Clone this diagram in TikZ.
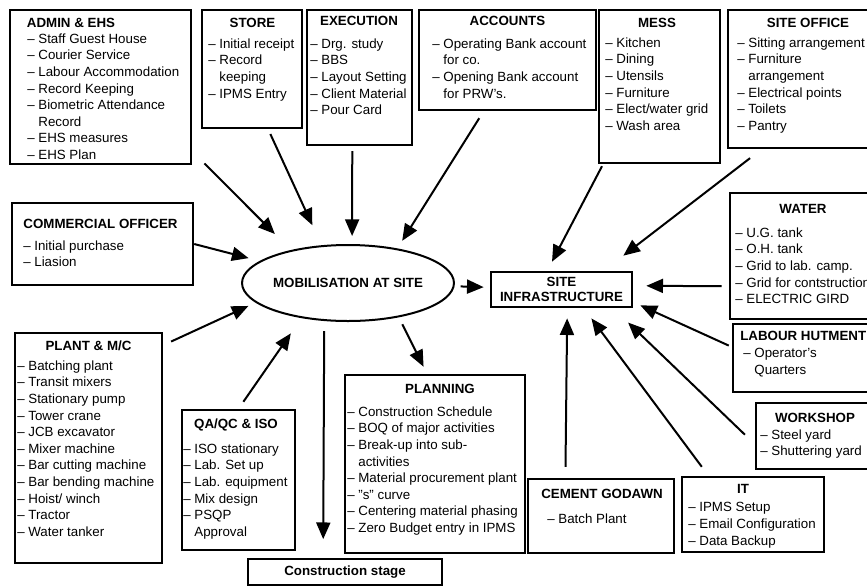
\documentclass[tikz,border=0pt]{standalone}
\usepackage{fontspec}
\setmainfont{Liberation Sans}
\usetikzlibrary{arrows.meta,shapes.geometric,fit}
\newcommand{\dashind}{\hphantom{-- }}
\begin{document}
\begin{tikzpicture}[x=0.75pt,y=-0.75pt,
    box/.style={draw,line width=1.8pt,inner sep=0pt},
    ttl/.style={font=\bfseries,anchor=base,inner sep=0pt},
    lst/.style={font=\fontsize{10}{12.45}\selectfont,align=left,anchor=north west,inner sep=0pt},
    arr/.style={line width=1.5pt,-{Triangle[length=12.5pt,width=10.5pt]}}]
    \useasboundingbox (0,0) rectangle (867,587);
    \clip (0,0) rectangle (867,587);
    % centre
    \node[draw,ellipse,line width=1.5pt,minimum width=148.5pt,minimum height=57pt,inner sep=0pt,font=\bfseries] (mob) at (348,283) {MOBILISATION AT SITE};
    \node[box,line width=2pt,align=center,font=\bfseries\fontsize{10}{11.25}\selectfont,minimum width=105.75pt,minimum height=26.25pt] (infra) at (561.5,289.5) {SITE\\INFRASTRUCTURE};
    \node[box,font=\bfseries,minimum width=145.5pt,minimum height=19.5pt] (cons) at (345,572) {Construction stage};
    % top row
    \node[box,fit={(10,10) (191,164)}] (admin) {};
    \node[ttl] (admint) at (71,27) {ADMIN \& EHS};
    \node[lst] (admini) at (27,33.4) {-- Staff Guest House\\-- Courier Service\\-- Labour Accommodation\\-- Record Keeping\\-- Biometric Attendance\\\dashind Record\\-- EHS measures\\-- EHS Plan};
    \node[box,fit={(202,10) (302,128)}] (store) {};
    \node[ttl] (storet) at (252.5,27) {STORE};
    \node[lst] (storei) at (208,38.4) {-- Initial receipt\\-- Record\\\dashind keeping\\-- IPMS Entry};
    \node[box,fit={(307,10) (412,145)}] (exec) {};
    \node[ttl] (exect) at (359,25) {EXECUTION};
    \node[lst] (execi) at (310,38.4) {-- Drg. study\\-- BBS\\-- Layout Setting\\-- Client Material\\-- Pour Card};
    \node[box,fit={(419,10) (596,110)}] (acc) {};
    \node[ttl] (acct) at (507.5,25) {ACCOUNTS};
    \node[lst] (acci) at (432,38.4) {-- Operating Bank account\\\dashind for co.\\-- Opening Bank account\\\dashind for PRW's.};
    \node[box,fit={(599,10) (720,163)}] (mess) {};
    \node[ttl] (messt) at (657,27) {MESS};
    \node[lst] (messi) at (605,37.4) {-- Kitchen\\-- Dining\\-- Utensils\\-- Furniture\\-- Elect/water grid\\-- Wash area};
    \node[box,fit={(728,10) (870,148)}] (siteoff) {};
    \node[ttl] (siteofft) at (808,27) {SITE OFFICE};
    \node[lst] (siteoffi) at (737,37.4) {-- Sitting arrangement\\-- Furniture\\\dashind arrangement\\-- Electrical points\\-- Toilets\\-- Pantry};
    % left side
    \node[box,fit={(12,203) (193,285)}] (comm) {};
    \node[ttl] (commt) at (100.5,228) {COMMERCIAL OFFICER};
    \node[lst] (commi) at (23,240.4) {-- Initial purchase\\-- Liasion};
    \node[box,fit={(15,333) (162,563)}] (plant) {};
    \node[ttl] (plantt) at (88.5,350) {PLANT \& M/C};
    \node[lst] (planti) at (17,360.4) {-- Batching plant\\-- Transit mixers\\-- Stationary pump\\-- Tower crane\\-- JCB excavator\\-- Mixer machine\\-- Bar cutting machine\\-- Bar bending machine\\-- Hoist/ winch\\-- Tractor\\-- Water tanker};
    \node[box,fit={(182,410) (295,550)}] (qa) {};
    \node[ttl] (qat) at (236,428) {QA/QC \& ISO};
    \node[lst] (qai) at (183,443.4) {-- ISO stationary\\-- Lab. Set up\\-- Lab. equipment\\-- Mix design\\-- PSQP\\\dashind Approval};
    % bottom
    \node[box,fit={(345,375) (525,553)}] (planning) {};
    \node[ttl] (planningt) at (440,393) {PLANNING};
    \node[lst] (planningi) at (347,406.4) {-- Construction Schedule\\-- BOQ of major activities\\-- Break-up into sub-\\\dashind activities\\-- Material procurement plant\\-- "s" curve\\-- Centering material phasing\\-- Zero Budget entry in IPMS};
    \node[box,fit={(528,479) (674,553)}] (cement) {};
    \node[ttl] (cementt) at (602,498) {CEMENT GODAWN};
    \node[lst] (cementi) at (547,513.4) {-- Batch Plant};
    \node[box,fit={(682,477) (824,552)}] (it) {};
    \node[ttl] (itt) at (743,493) {IT};
    \node[lst] (iti) at (688,502.4) {-- IPMS Setup\\-- Email Configuration\\-- Data Backup};
    % right side
    \node[box,fit={(730,193) (870,319)}] (water) {};
    \node[ttl] (watert) at (803,213) {WATER};
    \node[lst] (wateri) at (735,227.4) {-- U.G. tank\\-- O.H. tank\\-- Grid to lab. camp.\\-- Grid for contstruction\\-- ELECTRIC GIRD};
    \node[box,fit={(733,324) (870,392)}] (labour) {};
    \node[ttl,anchor=base west] (labourt) at (740,340) {LABOUR HUTMENT};
    \node[lst] (labouri) at (743,348.4) {-- Operator's\\\dashind Quarters};
    \node[box,fit={(756,403) (870,469)}] (workshop) {};
    \node[ttl] (workshopt) at (815,422) {WORKSHOP};
    \node[lst] (workshopi) at (760,429.4) {-- Steel yard\\-- Shuttering yard};
    % into mobilisation
    \draw[arr,shorten <=13pt,shorten >=17pt] (admin.-35) -- (mob.150);
    \draw[arr,shorten <=4pt,shorten >=16.5pt] (store.-75) -- (mob.125);
    \draw[arr,shorten <=3.75pt,shorten >=6pt] (exec.-96) -- (mob.84);
    \draw[arr,shorten <=6.2pt,shorten >=6.75pt] (acc.-115) -- (mob.35);
    \draw[arr,shorten >=8.6pt] (comm.east) -- (mob.166);
    \draw[arr,shorten <=6.5pt,shorten >=5.9pt] (plant.54) -- (mob.192);
    \draw[arr,shorten <=6.4pt,shorten >=13.9pt] (qa.north) -- (mob.217);
    % out of mobilisation
    \draw[arr,shorten <=7.5pt,shorten >=14pt] (mob.-122) -- (cons.147);
    \draw[arr,shorten <=5.8pt,shorten >=5.9pt] (mob.-34) -- (planning.95);
    \draw[arr,shorten <=4.5pt,shorten >=4.5pt] (mob) -- (infra);
    % into site infrastructure
    \draw[arr,shorten <=1.7pt,shorten >=7.6pt] (mess.-126) -- (infra.127);
    \draw[arr,shorten <=11pt,shorten >=18.5pt] (siteoff.-118) -- (infra.24);
    \draw[arr,shorten <=5.3pt,shorten >=9.75pt] (water.-157) -- (infra.3);
    \draw[arr,shorten <=2.5pt,shorten >=5.8pt] (labour.171) -- (infra.-10);
    \draw[arr,shorten <=10.3pt,shorten >=15.4pt] (workshop.-172) -- (infra.-20);
    \draw[arr,shorten <=8.4pt,shorten >=9.4pt] (it.139) -- (infra.-40);
    \draw[arr,shorten <=8.25pt,shorten >=7.5pt] (cement.133) -- (infra.-73);
\end{tikzpicture}
\end{document}
